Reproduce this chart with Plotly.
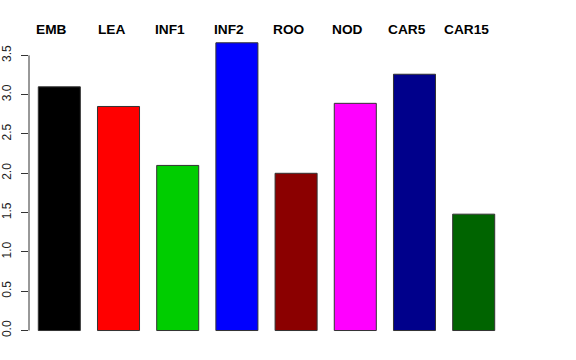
import plotly.graph_objects as go

categories = ["EMB", "LEA", "INF1", "INF2", "ROO", "NOD", "CAR5", "CAR15"]
values = [3.10, 2.85, 2.10, 3.66, 2.00, 2.89, 3.26, 1.48]
colors = ["#000000", "#FF0000", "#00CD00", "#0000FF", "#8B0000", "#FF00FF", "#00008B", "#006400"]
tick_vals = [0.0, 0.5, 1.0, 1.5, 2.0, 2.5, 3.0, 3.5]

fig = go.Figure()
fig.add_trace(go.Bar(
    x=list(range(len(categories))),
    y=values,
    marker=dict(color=colors, line=dict(color="#333333", width=1)),
    width=0.71,
    showlegend=False,
    hoverinfo="skip",
))

for i, c in enumerate(categories):
    fig.add_annotation(
        x=i, xref="x", y=1, yref="paper",
        text="<b>" + c + "</b>", showarrow=False,
        xanchor="center", yanchor="middle", xshift=-7.5, yshift=2,
        font=dict(family="Liberation Sans, Arial, sans-serif", size=13.7, color="black"),
    )

# y axis line spanning the tick range only (R style)
fig.add_shape(type="line", xref="paper", yref="y", x0=0, x1=0,
              y0=tick_vals[0], y1=tick_vals[-1], line=dict(color="#333333", width=1))

fig.update_layout(
    width=576, height=360,
    margin=dict(l=29, r=72, t=31, b=18, autoexpand=False),
    paper_bgcolor="white", plot_bgcolor="white",
    font=dict(family="Liberation Sans, Arial, sans-serif", size=12, color="black"),
    xaxis=dict(range=[-0.512, 7.512], showticklabels=False, showgrid=False,
               zeroline=False, showline=False, ticks="", automargin=False),
    yaxis=dict(range=[-0.146, 3.81], tickvals=tick_vals, tickformat=".1f",
               tickangle=-90, ticks="outside", ticklen=7, tickcolor="#333333",
               showgrid=False, zeroline=False, showline=False, automargin=False,
               ticklabelstandoff=5,
               tickfont=dict(size=12, color="#222222")),
)

fig.write_html("out.html", config={"displayModeBar": False},
               post_script="document.body.style.margin='0px';")
